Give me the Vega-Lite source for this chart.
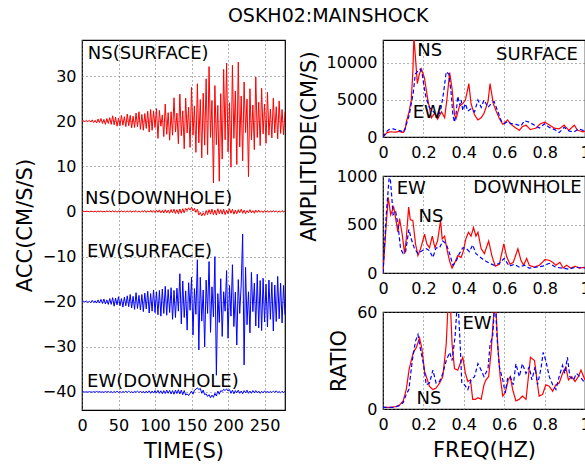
{
"$schema":"https://vega.github.io/schema/vega-lite/v6.json",
"background":"white",
"padding":{"left":13,"top":7,"right":5,"bottom":5},
"title":{"text":"OSKH02:MAINSHOCK","font":"DejaVu Sans","fontSize":19,"fontWeight":"normal","color":"black","anchor":"middle","dx":26,"offset":13},
"config":{
 "font":"DejaVu Sans",
 "view":{"stroke":"black","strokeWidth":1.2},
 "axis":{"labelFont":"DejaVu Sans","labelFontSize":16,"labelColor":"black","titleFont":"DejaVu Sans","titleFontSize":21,"titleFontWeight":"normal","titleColor":"black","ticks":false,"domain":false,"grid":true,"gridColor":"#666","gridDash":[1,3],"gridOpacity":1,"labelPadding":6,"titlePadding":7,"labelFlush":false,"labelOverlap":false},
 "axisX":{"labelPadding":7}
},
"resolve":{"scale":{"color":"independent","strokeDash":"independent"}},
"datasets":{
"ts":[
{"t":0,"a":20,"b":0,"c":-20,"d":-40},
{"t":2,"a":20.1,"b":0.05,"c":-19.9,"d":-39.95},
{"t":4,"a":19.9,"b":-0.05,"c":-20.1,"d":-40.05},
{"t":6,"a":20.2,"b":0.05,"c":-19.8,"d":-39.95},
{"t":8,"a":19.9,"b":0,"c":-20.2,"d":-40.05},
{"t":10,"a":20.2,"b":-0.05,"c":-19.9,"d":-39.95},
{"t":12,"a":19.8,"b":0.05,"c":-20.2,"d":-40},
{"t":14,"a":20.3,"b":0,"c":-19.7,"d":-40.05},
{"t":16,"a":19.7,"b":-0.05,"c":-20.2,"d":-39.95},
{"t":18,"a":20.2,"b":0.05,"c":-19.8,"d":-40.05},
{"t":20,"a":19.6,"b":-0.1,"c":-20.3,"d":-39.9},
{"t":22,"a":20.5,"b":0.1,"c":-19.6,"d":-40.05},
{"t":24,"a":19.7,"b":-0.05,"c":-20.3,"d":-39.9},
{"t":26,"a":20.6,"b":0.1,"c":-19.5,"d":-40.1},
{"t":28,"a":19.5,"b":-0.1,"c":-20.4,"d":-39.95},
{"t":30,"a":20.4,"b":0.05,"c":-19.4,"d":-40.1},
{"t":32,"a":19.3,"b":-0.1,"c":-20.5,"d":-39.9},
{"t":34,"a":20.6,"b":0.1,"c":-19.6,"d":-40.05},
{"t":36,"a":19.5,"b":-0.05,"c":-20.6,"d":-39.9},
{"t":38,"a":20.8,"b":0.1,"c":-19.3,"d":-40.1},
{"t":40,"a":19.3,"b":-0.1,"c":-20.6,"d":-39.9},
{"t":42,"a":21.2,"b":0.15,"c":-19.1,"d":-40.15},
{"t":44,"a":19.2,"b":-0.1,"c":-21.0,"d":-39.9},
{"t":46,"a":20.9,"b":0.1,"c":-19.2,"d":-40.1},
{"t":48,"a":18.9,"b":-0.15,"c":-20.7,"d":-39.85},
{"t":50,"a":20.7,"b":0.1,"c":-18.9,"d":-40.1},
{"t":52,"a":19.0,"b":-0.1,"c":-20.9,"d":-39.9},
{"t":54,"a":21.3,"b":0.15,"c":-19.3,"d":-40.15},
{"t":56,"a":19.1,"b":-0.1,"c":-21.2,"d":-39.9},
{"t":58,"a":21.0,"b":0.1,"c":-19.0,"d":-40.1},
{"t":60,"a":18.8,"b":-0.15,"c":-20.9,"d":-39.85},
{"t":62,"a":21.6,"b":0.1,"c":-18.7,"d":-40.1},
{"t":64,"a":19.0,"b":-0.1,"c":-21.1,"d":-39.8},
{"t":66,"a":21.3,"b":0.15,"c":-18.4,"d":-40.15},
{"t":68,"a":18.5,"b":-0.15,"c":-21.4,"d":-39.9},
{"t":70,"a":21.1,"b":0.1,"c":-18.8,"d":-40.2},
{"t":72,"a":18.6,"b":-0.1,"c":-21.7,"d":-39.85},
{"t":74,"a":21.8,"b":0.2,"c":-18.0,"d":-40.1},
{"t":76,"a":18.8,"b":-0.15,"c":-21.5,"d":-39.8},
{"t":78,"a":22.1,"b":0.1,"c":-18.6,"d":-40.15},
{"t":80,"a":18.2,"b":-0.2,"c":-21.8,"d":-39.8},
{"t":82,"a":21.5,"b":0.15,"c":-18.4,"d":-40.2},
{"t":84,"a":18.0,"b":-0.1,"c":-22.2,"d":-39.85},
{"t":86,"a":21.7,"b":0.2,"c":-18.1,"d":-40.25},
{"t":88,"a":18.4,"b":-0.2,"c":-21.6,"d":-39.8},
{"t":90,"a":22.2,"b":0.15,"c":-17.7,"d":-40.2},
{"t":92,"a":17.6,"b":-0.15,"c":-22.5,"d":-39.75},
{"t":94,"a":22.6,"b":0.25,"c":-18.2,"d":-40.3},
{"t":96,"a":18.0,"b":-0.2,"c":-22.1,"d":-39.8},
{"t":98,"a":22.3,"b":0.2,"c":-17.4,"d":-40.25},
{"t":100,"a":18.6,"b":-0.25,"c":-22.4,"d":-39.7},
{"t":102,"a":22.8,"b":0.3,"c":-17.8,"d":-40.25},
{"t":104,"a":16.2,"b":-0.2,"c":-22.9,"d":-39.65},
{"t":106,"a":22.4,"b":0.35,"c":-17.5,"d":-40.3},
{"t":108,"a":18.9,"b":-0.3,"c":-23.2,"d":-39.75},
{"t":110,"a":21.4,"b":0.25,"c":-17.2,"d":-40.4},
{"t":112,"a":16.6,"b":-0.35,"c":-22.6,"d":-39.7},
{"t":114,"a":23.8,"b":0.4,"c":-16.6,"d":-40.35},
{"t":116,"a":17.1,"b":-0.3,"c":-23.0,"d":-39.6},
{"t":118,"a":21.9,"b":0.3,"c":-17.3,"d":-40.3},
{"t":120,"a":15.8,"b":-0.4,"c":-22.4,"d":-39.65},
{"t":122,"a":22.1,"b":0.45,"c":-16.9,"d":-40.45},
{"t":124,"a":16.9,"b":-0.3,"c":-23.9,"d":-39.7},
{"t":126,"a":25.2,"b":0.5,"c":-17.5,"d":-40.5},
{"t":128,"a":17.6,"b":-0.45,"c":-23.5,"d":-39.6},
{"t":130,"a":21.8,"b":0.4,"c":-17.0,"d":-40.35},
{"t":132,"a":15.0,"b":-0.5,"c":-22.1,"d":-39.5},
{"t":134,"a":26.0,"b":0.55,"c":-13.8,"d":-40.45},
{"t":136,"a":16.8,"b":-0.4,"c":-24.9,"d":-39.6},
{"t":138,"a":22.3,"b":0.6,"c":-15.4,"d":-40.6},
{"t":140,"a":13.9,"b":-0.3,"c":-23.5,"d":-39.7},
{"t":142,"a":25.1,"b":0.7,"c":-17.6,"d":-40.7},
{"t":144,"a":17.4,"b":0.2,"c":-26.3,"d":-40.4},
{"t":146,"a":23.1,"b":0.8,"c":-15.8,"d":-40.8},
{"t":148,"a":14.2,"b":0.3,"c":-21.9,"d":-40.3},
{"t":150,"a":27.5,"b":0.95,"c":-14.6,"d":-39.8},
{"t":152,"a":16.9,"b":0.1,"c":-27.4,"d":-40.5},
{"t":154,"a":23.4,"b":0.7,"c":-17.1,"d":-39.6},
{"t":156,"a":13.1,"b":-0.2,"c":-22.8,"d":-39.4},
{"t":158,"a":28.3,"b":0.5,"c":-10.7,"d":-39.1},
{"t":160,"a":15.2,"b":-0.8,"c":-30.7,"d":-39.5},
{"t":162,"a":24.8,"b":-0.2,"c":-14.6,"d":-39.2},
{"t":164,"a":11.9,"b":-1.0,"c":-24.3,"d":-40.3},
{"t":166,"a":26.2,"b":-0.3,"c":-17.4,"d":-39.6},
{"t":168,"a":14.7,"b":-0.9,"c":-30.0,"d":-40.6},
{"t":170,"a":29.4,"b":0.2,"c":-15.2,"d":-40.4},
{"t":172,"a":12.6,"b":-0.7,"c":-22.6,"d":-41.0},
{"t":174,"a":32.1,"b":0.4,"c":-11.1,"d":-40.6},
{"t":176,"a":16.4,"b":-0.6,"c":-26.8,"d":-41.3},
{"t":178,"a":24.6,"b":0.5,"c":-16.7,"d":-40.7},
{"t":180,"a":6.3,"b":-0.7,"c":-23.4,"d":-41.2},
{"t":182,"a":27.9,"b":0.3,"c":-10.0,"d":-40.3},
{"t":184,"a":14.8,"b":-0.8,"c":-36.3,"d":-40.9},
{"t":186,"a":23.5,"b":0.6,"c":-18.2,"d":-39.8},
{"t":188,"a":6.7,"b":-0.5,"c":-24.6,"d":-40.5},
{"t":190,"a":26.1,"b":0.4,"c":-14.9,"d":-39.7},
{"t":192,"a":11.6,"b":-0.6,"c":-27.7,"d":-39.9},
{"t":194,"a":31.5,"b":0.5,"c":-17.8,"d":-39.4},
{"t":196,"a":15.9,"b":-0.7,"c":-22.1,"d":-39.7},
{"t":198,"a":32.9,"b":0.3,"c":-13.1,"d":-39.3},
{"t":200,"a":13.2,"b":-0.5,"c":-28.1,"d":-39.8},
{"t":202,"a":24.1,"b":0.6,"c":-16.4,"d":-39.5},
{"t":204,"a":9.8,"b":-0.4,"c":-23.2,"d":-40.3},
{"t":206,"a":32.4,"b":0.5,"c":-11.8,"d":-39.6},
{"t":208,"a":16.2,"b":-0.6,"c":-25.5,"d":-40.4},
{"t":210,"a":26.7,"b":0.3,"c":-17.9,"d":-39.7},
{"t":212,"a":10.4,"b":-0.5,"c":-29.6,"d":-40.2},
{"t":214,"a":33.1,"b":0.4,"c":-15.1,"d":-39.6},
{"t":216,"a":14.3,"b":-0.3,"c":-22.6,"d":-40.3},
{"t":218,"a":25.6,"b":0.5,"c":-16.3,"d":-39.8},
{"t":220,"a":11.2,"b":-0.4,"c":-5.0,"d":-40.4},
{"t":222,"a":28.7,"b":0.3,"c":-34.0,"d":-39.7},
{"t":224,"a":17.5,"b":-0.5,"c":-12.4,"d":-40.2},
{"t":226,"a":24.9,"b":0.2,"c":-25.1,"d":-39.6},
{"t":228,"a":7.7,"b":-0.3,"c":-17.8,"d":-40.3},
{"t":230,"a":27.2,"b":0.4,"c":-26.9,"d":-39.8},
{"t":232,"a":15.9,"b":-0.3,"c":-13.5,"d":-40.3},
{"t":234,"a":23.6,"b":0.2,"c":-22.2,"d":-39.7},
{"t":236,"a":13.7,"b":-0.4,"c":-15.9,"d":-40.2},
{"t":238,"a":29.8,"b":0.3,"c":-25.4,"d":-39.7},
{"t":240,"a":16.4,"b":-0.2,"c":-13.9,"d":-40.2},
{"t":242,"a":24.2,"b":0.3,"c":-25.8,"d":-39.8},
{"t":244,"a":14.6,"b":-0.2,"c":-15.3,"d":-40.3},
{"t":246,"a":27.3,"b":0.15,"c":-26.4,"d":-39.85},
{"t":248,"a":17.2,"b":-0.25,"c":-14.8,"d":-40.2},
{"t":250,"a":23.8,"b":0.2,"c":-24.5,"d":-39.75},
{"t":252,"a":15.1,"b":-0.15,"c":-16.1,"d":-40.15},
{"t":254,"a":26.4,"b":0.2,"c":-25.6,"d":-39.8},
{"t":256,"a":16.9,"b":-0.2,"c":-15.2,"d":-40.2},
{"t":258,"a":22.7,"b":0.15,"c":-23.9,"d":-39.85},
{"t":260,"a":16.3,"b":-0.15,"c":-15.7,"d":-40.15},
{"t":262,"a":25.1,"b":0.2,"c":-26.5,"d":-39.8},
{"t":264,"a":17.4,"b":-0.1,"c":-16.3,"d":-40.1},
{"t":266,"a":23.2,"b":0.15,"c":-24.4,"d":-39.75},
{"t":268,"a":16.1,"b":-0.2,"c":-14.4,"d":-40.15},
{"t":270,"a":24.5,"b":0.1,"c":-23.8,"d":-39.9},
{"t":272,"a":17.3,"b":-0.15,"c":-15.9,"d":-40.2},
{"t":274,"a":22.6,"b":0.2,"c":-24.7,"d":-39.85},
{"t":276,"a":17.0,"b":-0.1,"c":-16.4,"d":-40.1},
{"t":278,"a":22.0,"b":0.1,"c":-22.9,"d":-39.9}
],
"surf":[
{"c":"NS","f":0,"v":0},{"c":"NS","f":0.02,"v":600},{"c":"NS","f":0.04,"v":700},{"c":"NS","f":0.06,"v":650},{"c":"NS","f":0.08,"v":750},{"c":"NS","f":0.1,"v":600},{"c":"NS","f":0.11,"v":1000},{"c":"NS","f":0.115,"v":2000},{"c":"NS","f":0.13,"v":3500},{"c":"NS","f":0.14,"v":5000},{"c":"NS","f":0.148,"v":9000},{"c":"NS","f":0.153,"v":13500},{"c":"NS","f":0.16,"v":11000},{"c":"NS","f":0.17,"v":7200},{"c":"NS","f":0.18,"v":8500},{"c":"NS","f":0.19,"v":9200},{"c":"NS","f":0.205,"v":8000},{"c":"NS","f":0.222,"v":5000},{"c":"NS","f":0.24,"v":2600},{"c":"NS","f":0.255,"v":3200},{"c":"NS","f":0.27,"v":2400},{"c":"NS","f":0.29,"v":3400},{"c":"NS","f":0.305,"v":2600},{"c":"NS","f":0.316,"v":5000},{"c":"NS","f":0.33,"v":8700},{"c":"NS","f":0.342,"v":6500},{"c":"NS","f":0.354,"v":3000},{"c":"NS","f":0.362,"v":2500},{"c":"NS","f":0.379,"v":4200},{"c":"NS","f":0.395,"v":4500},{"c":"NS","f":0.408,"v":5000},{"c":"NS","f":0.425,"v":7200},{"c":"NS","f":0.436,"v":4500},{"c":"NS","f":0.453,"v":3000},{"c":"NS","f":0.47,"v":2300},{"c":"NS","f":0.486,"v":2600},{"c":"NS","f":0.5,"v":3200},{"c":"NS","f":0.52,"v":4800},{"c":"NS","f":0.53,"v":7200},{"c":"NS","f":0.546,"v":4500},{"c":"NS","f":0.56,"v":3500},{"c":"NS","f":0.576,"v":2500},{"c":"NS","f":0.593,"v":1700},{"c":"NS","f":0.617,"v":2300},{"c":"NS","f":0.634,"v":1700},{"c":"NS","f":0.658,"v":1200},{"c":"NS","f":0.675,"v":900},{"c":"NS","f":0.69,"v":1400},{"c":"NS","f":0.708,"v":1600},{"c":"NS","f":0.73,"v":1000},{"c":"NS","f":0.757,"v":1200},{"c":"NS","f":0.78,"v":1800},{"c":"NS","f":0.8,"v":2000},{"c":"NS","f":0.82,"v":1700},{"c":"NS","f":0.847,"v":1200},{"c":"NS","f":0.872,"v":1100},{"c":"NS","f":0.897,"v":1600},{"c":"NS","f":0.92,"v":900},{"c":"NS","f":0.947,"v":1600},{"c":"NS","f":0.963,"v":900},{"c":"NS","f":0.99,"v":700},{"c":"NS","f":1.0,"v":800},
{"c":"EW","f":0,"v":0},{"c":"EW","f":0.02,"v":800},{"c":"EW","f":0.03,"v":1000},{"c":"EW","f":0.05,"v":1100},{"c":"EW","f":0.07,"v":950},{"c":"EW","f":0.09,"v":800},{"c":"EW","f":0.1,"v":600},{"c":"EW","f":0.11,"v":1200},{"c":"EW","f":0.13,"v":3000},{"c":"EW","f":0.15,"v":6000},{"c":"EW","f":0.16,"v":8500},{"c":"EW","f":0.175,"v":9000},{"c":"EW","f":0.185,"v":9200},{"c":"EW","f":0.194,"v":8500},{"c":"EW","f":0.205,"v":6500},{"c":"EW","f":0.214,"v":5200},{"c":"EW","f":0.23,"v":4000},{"c":"EW","f":0.247,"v":3500},{"c":"EW","f":0.263,"v":3000},{"c":"EW","f":0.28,"v":3200},{"c":"EW","f":0.288,"v":4000},{"c":"EW","f":0.3,"v":6000},{"c":"EW","f":0.313,"v":8800},{"c":"EW","f":0.326,"v":8500},{"c":"EW","f":0.337,"v":6000},{"c":"EW","f":0.346,"v":3000},{"c":"EW","f":0.354,"v":2000},{"c":"EW","f":0.362,"v":3200},{"c":"EW","f":0.37,"v":5500},{"c":"EW","f":0.38,"v":4300},{"c":"EW","f":0.387,"v":5000},{"c":"EW","f":0.395,"v":3600},{"c":"EW","f":0.408,"v":4500},{"c":"EW","f":0.42,"v":3500},{"c":"EW","f":0.436,"v":3800},{"c":"EW","f":0.453,"v":3400},{"c":"EW","f":0.47,"v":5000},{"c":"EW","f":0.486,"v":4000},{"c":"EW","f":0.5,"v":5000},{"c":"EW","f":0.52,"v":4000},{"c":"EW","f":0.535,"v":4500},{"c":"EW","f":0.55,"v":4800},{"c":"EW","f":0.568,"v":3500},{"c":"EW","f":0.585,"v":2200},{"c":"EW","f":0.6,"v":1800},{"c":"EW","f":0.617,"v":2100},{"c":"EW","f":0.634,"v":1800},{"c":"EW","f":0.658,"v":1700},{"c":"EW","f":0.683,"v":1500},{"c":"EW","f":0.7,"v":2200},{"c":"EW","f":0.724,"v":2000},{"c":"EW","f":0.75,"v":1600},{"c":"EW","f":0.774,"v":1200},{"c":"EW","f":0.8,"v":1800},{"c":"EW","f":0.823,"v":1300},{"c":"EW","f":0.85,"v":1000},{"c":"EW","f":0.872,"v":600},{"c":"EW","f":0.897,"v":1300},{"c":"EW","f":0.922,"v":800},{"c":"EW","f":0.946,"v":700},{"c":"EW","f":0.97,"v":1100},{"c":"EW","f":1.0,"v":800}
],
"down":[
{"c":"NS","f":0,"v":0},{"c":"NS","f":0.016,"v":500},{"c":"NS","f":0.026,"v":780},{"c":"NS","f":0.038,"v":600},{"c":"NS","f":0.053,"v":680},{"c":"NS","f":0.066,"v":520},{"c":"NS","f":0.074,"v":420},{"c":"NS","f":0.082,"v":560},{"c":"NS","f":0.095,"v":400},{"c":"NS","f":0.107,"v":200},{"c":"NS","f":0.115,"v":350},{"c":"NS","f":0.127,"v":680},{"c":"NS","f":0.135,"v":550},{"c":"NS","f":0.148,"v":540},{"c":"NS","f":0.161,"v":300},{"c":"NS","f":0.173,"v":180},{"c":"NS","f":0.186,"v":250},{"c":"NS","f":0.206,"v":400},{"c":"NS","f":0.217,"v":300},{"c":"NS","f":0.23,"v":260},{"c":"NS","f":0.244,"v":380},{"c":"NS","f":0.257,"v":260},{"c":"NS","f":0.27,"v":330},{"c":"NS","f":0.285,"v":540},{"c":"NS","f":0.293,"v":350},{"c":"NS","f":0.305,"v":380},{"c":"NS","f":0.316,"v":250},{"c":"NS","f":0.33,"v":120},{"c":"NS","f":0.342,"v":50},{"c":"NS","f":0.354,"v":100},{"c":"NS","f":0.37,"v":180},{"c":"NS","f":0.387,"v":160},{"c":"NS","f":0.398,"v":230},{"c":"NS","f":0.41,"v":350},{"c":"NS","f":0.423,"v":420},{"c":"NS","f":0.436,"v":380},{"c":"NS","f":0.448,"v":470},{"c":"NS","f":0.46,"v":380},{"c":"NS","f":0.47,"v":420},{"c":"NS","f":0.486,"v":250},{"c":"NS","f":0.502,"v":200},{"c":"NS","f":0.523,"v":330},{"c":"NS","f":0.54,"v":170},{"c":"NS","f":0.556,"v":70},{"c":"NS","f":0.576,"v":90},{"c":"NS","f":0.598,"v":300},{"c":"NS","f":0.612,"v":170},{"c":"NS","f":0.629,"v":90},{"c":"NS","f":0.645,"v":110},{"c":"NS","f":0.668,"v":250},{"c":"NS","f":0.683,"v":130},{"c":"NS","f":0.696,"v":80},{"c":"NS","f":0.711,"v":150},{"c":"NS","f":0.724,"v":80},{"c":"NS","f":0.749,"v":60},{"c":"NS","f":0.774,"v":80},{"c":"NS","f":0.803,"v":140},{"c":"NS","f":0.823,"v":130},{"c":"NS","f":0.84,"v":110},{"c":"NS","f":0.856,"v":80},{"c":"NS","f":0.876,"v":110},{"c":"NS","f":0.892,"v":50},{"c":"NS","f":0.909,"v":80},{"c":"NS","f":0.93,"v":50},{"c":"NS","f":0.951,"v":70},{"c":"NS","f":0.971,"v":50},{"c":"NS","f":1.0,"v":60},
{"c":"EW","f":0,"v":0},{"c":"EW","f":0.016,"v":600},{"c":"EW","f":0.033,"v":1050},{"c":"EW","f":0.041,"v":850},{"c":"EW","f":0.05,"v":600},{"c":"EW","f":0.063,"v":630},{"c":"EW","f":0.074,"v":500},{"c":"EW","f":0.087,"v":250},{"c":"EW","f":0.1,"v":200},{"c":"EW","f":0.112,"v":220},{"c":"EW","f":0.128,"v":450},{"c":"EW","f":0.14,"v":350},{"c":"EW","f":0.156,"v":250},{"c":"EW","f":0.173,"v":200},{"c":"EW","f":0.194,"v":230},{"c":"EW","f":0.214,"v":250},{"c":"EW","f":0.23,"v":230},{"c":"EW","f":0.247,"v":160},{"c":"EW","f":0.263,"v":260},{"c":"EW","f":0.28,"v":260},{"c":"EW","f":0.296,"v":330},{"c":"EW","f":0.313,"v":300},{"c":"EW","f":0.33,"v":200},{"c":"EW","f":0.346,"v":80},{"c":"EW","f":0.362,"v":120},{"c":"EW","f":0.378,"v":200},{"c":"EW","f":0.395,"v":260},{"c":"EW","f":0.41,"v":260},{"c":"EW","f":0.428,"v":220},{"c":"EW","f":0.444,"v":290},{"c":"EW","f":0.46,"v":200},{"c":"EW","f":0.477,"v":170},{"c":"EW","f":0.502,"v":130},{"c":"EW","f":0.527,"v":100},{"c":"EW","f":0.551,"v":80},{"c":"EW","f":0.576,"v":100},{"c":"EW","f":0.6,"v":150},{"c":"EW","f":0.625,"v":70},{"c":"EW","f":0.65,"v":90},{"c":"EW","f":0.675,"v":60},{"c":"EW","f":0.7,"v":80},{"c":"EW","f":0.724,"v":50},{"c":"EW","f":0.757,"v":60},{"c":"EW","f":0.79,"v":70},{"c":"EW","f":0.823,"v":100},{"c":"EW","f":0.856,"v":60},{"c":"EW","f":0.889,"v":50},{"c":"EW","f":0.92,"v":40},{"c":"EW","f":0.955,"v":60},{"c":"EW","f":1.0,"v":50}
],
"ratio":[
{"c":"NS","f":0,"v":1},{"c":"NS","f":0.033,"v":1},{"c":"NS","f":0.066,"v":1.5},{"c":"NS","f":0.082,"v":2.5},{"c":"NS","f":0.1,"v":5},{"c":"NS","f":0.115,"v":12},{"c":"NS","f":0.13,"v":25},{"c":"NS","f":0.15,"v":35},{"c":"NS","f":0.165,"v":38},{"c":"NS","f":0.181,"v":44},{"c":"NS","f":0.193,"v":37},{"c":"NS","f":0.206,"v":23},{"c":"NS","f":0.22,"v":18},{"c":"NS","f":0.23,"v":14},{"c":"NS","f":0.247,"v":12},{"c":"NS","f":0.263,"v":13},{"c":"NS","f":0.28,"v":16},{"c":"NS","f":0.296,"v":20},{"c":"NS","f":0.313,"v":40},{"c":"NS","f":0.324,"v":70},{"c":"NS","f":0.332,"v":70},{"c":"NS","f":0.342,"v":40},{"c":"NS","f":0.354,"v":25},{"c":"NS","f":0.37,"v":24},{"c":"NS","f":0.382,"v":28},{"c":"NS","f":0.395,"v":32},{"c":"NS","f":0.408,"v":22},{"c":"NS","f":0.42,"v":17},{"c":"NS","f":0.433,"v":18},{"c":"NS","f":0.444,"v":6},{"c":"NS","f":0.458,"v":6},{"c":"NS","f":0.47,"v":7},{"c":"NS","f":0.486,"v":6},{"c":"NS","f":0.5,"v":15},{"c":"NS","f":0.51,"v":18},{"c":"NS","f":0.523,"v":20},{"c":"NS","f":0.535,"v":35},{"c":"NS","f":0.546,"v":55},{"c":"NS","f":0.556,"v":70},{"c":"NS","f":0.568,"v":40},{"c":"NS","f":0.58,"v":20},{"c":"NS","f":0.593,"v":8},{"c":"NS","f":0.605,"v":10},{"c":"NS","f":0.62,"v":18},{"c":"NS","f":0.63,"v":20},{"c":"NS","f":0.642,"v":12},{"c":"NS","f":0.658,"v":5},{"c":"NS","f":0.675,"v":6},{"c":"NS","f":0.69,"v":8},{"c":"NS","f":0.708,"v":6},{"c":"NS","f":0.72,"v":20},{"c":"NS","f":0.73,"v":32},{"c":"NS","f":0.75,"v":30},{"c":"NS","f":0.765,"v":15},{"c":"NS","f":0.773,"v":8},{"c":"NS","f":0.79,"v":9},{"c":"NS","f":0.806,"v":15},{"c":"NS","f":0.823,"v":14},{"c":"NS","f":0.84,"v":11},{"c":"NS","f":0.856,"v":15},{"c":"NS","f":0.872,"v":16},{"c":"NS","f":0.889,"v":22},{"c":"NS","f":0.905,"v":26},{"c":"NS","f":0.918,"v":18},{"c":"NS","f":0.934,"v":20},{"c":"NS","f":0.951,"v":17},{"c":"NS","f":0.967,"v":20},{"c":"NS","f":0.98,"v":24},{"c":"NS","f":1.0,"v":18},
{"c":"EW","f":0,"v":1},{"c":"EW","f":0.05,"v":1},{"c":"EW","f":0.08,"v":2},{"c":"EW","f":0.1,"v":4},{"c":"EW","f":0.115,"v":9},{"c":"EW","f":0.128,"v":12},{"c":"EW","f":0.145,"v":30},{"c":"EW","f":0.161,"v":42},{"c":"EW","f":0.173,"v":46},{"c":"EW","f":0.184,"v":38},{"c":"EW","f":0.2,"v":28},{"c":"EW","f":0.214,"v":15},{"c":"EW","f":0.23,"v":16},{"c":"EW","f":0.247,"v":24},{"c":"EW","f":0.263,"v":16},{"c":"EW","f":0.28,"v":17},{"c":"EW","f":0.296,"v":22},{"c":"EW","f":0.313,"v":30},{"c":"EW","f":0.33,"v":35},{"c":"EW","f":0.342,"v":30},{"c":"EW","f":0.357,"v":45},{"c":"EW","f":0.37,"v":70},{"c":"EW","f":0.382,"v":40},{"c":"EW","f":0.39,"v":16},{"c":"EW","f":0.403,"v":15},{"c":"EW","f":0.42,"v":12},{"c":"EW","f":0.436,"v":18},{"c":"EW","f":0.453,"v":20},{"c":"EW","f":0.47,"v":28},{"c":"EW","f":0.486,"v":24},{"c":"EW","f":0.5,"v":20},{"c":"EW","f":0.52,"v":25},{"c":"EW","f":0.53,"v":40},{"c":"EW","f":0.543,"v":45},{"c":"EW","f":0.555,"v":70},{"c":"EW","f":0.564,"v":45},{"c":"EW","f":0.576,"v":26},{"c":"EW","f":0.593,"v":18},{"c":"EW","f":0.605,"v":10},{"c":"EW","f":0.617,"v":19},{"c":"EW","f":0.63,"v":20},{"c":"EW","f":0.645,"v":15},{"c":"EW","f":0.658,"v":28},{"c":"EW","f":0.675,"v":20},{"c":"EW","f":0.69,"v":28},{"c":"EW","f":0.708,"v":22},{"c":"EW","f":0.724,"v":26},{"c":"EW","f":0.737,"v":18},{"c":"EW","f":0.753,"v":26},{"c":"EW","f":0.765,"v":15},{"c":"EW","f":0.782,"v":25},{"c":"EW","f":0.793,"v":35},{"c":"EW","f":0.806,"v":30},{"c":"EW","f":0.823,"v":20},{"c":"EW","f":0.84,"v":15},{"c":"EW","f":0.856,"v":12},{"c":"EW","f":0.872,"v":20},{"c":"EW","f":0.889,"v":27},{"c":"EW","f":0.9,"v":22},{"c":"EW","f":0.913,"v":32},{"c":"EW","f":0.925,"v":20},{"c":"EW","f":0.943,"v":18},{"c":"EW","f":0.958,"v":22},{"c":"EW","f":0.975,"v":20},{"c":"EW","f":1.0,"v":16}
]
},
"hconcat":[
{
 "width":203,"height":370,
 "layer":[
  {"data":{"name":"ts"},
   "transform":[{"fold":["a","b","c","d"],"as":["s","v"]}],
   "mark":{"type":"line","strokeWidth":1,"clip":true},
   "encoding":{
    "x":{"field":"t","type":"quantitative","scale":{"domain":[0,278],"nice":false,"zero":false},"axis":{"values":[0,50,100,150,200,250],"title":"TIME(S)"}},
    "y":{"field":"v","type":"quantitative","scale":{"domain":[-44,38],"nice":false,"zero":false},"axis":{"values":[-40,-30,-20,-10,0,10,20,30],"title":"ACC(CM/S/S)"}},
    "color":{"field":"s","type":"nominal","scale":{"domain":["a","b","c","d"],"range":["#ff0000","#ff0000","#0000ff","#0000ff"]},"legend":null}
   }},
  {"data":{"values":[{"t":8,"v":35,"label":"NS(SURFACE)"},{"t":4,"v":2.7,"label":"NS(DOWNHOLE)"},{"t":7,"v":-8.9,"label":"EW(SURFACE)"},{"t":7,"v":-37.9,"label":"EW(DOWNHOLE)"}]},
   "mark":{"type":"text","align":"left","baseline":"middle","fontSize":18,"font":"DejaVu Sans","color":"black"},
   "encoding":{"x":{"field":"t","type":"quantitative"},"y":{"field":"v","type":"quantitative"},"text":{"field":"label","type":"nominal"}}}
 ]
},
{
 "vconcat":[
  {
   "width":202,"height":97,
   "layer":[
    {"data":{"name":"surf"},
     "mark":{"type":"line","strokeWidth":1.2,"clip":true},
     "encoding":{
      "x":{"field":"f","type":"quantitative","scale":{"domain":[0,1],"nice":false},"axis":{"values":[0,0.2,0.4,0.6,0.8,1],"format":"~g","title":null}},
      "y":{"field":"v","type":"quantitative","scale":{"domain":[0,13100],"nice":false},"axis":{"values":[0,5000,10000],"format":"d","title":"AMPLITUDE(CM/S)","titleY":106}},
      "color":{"field":"c","type":"nominal","scale":{"domain":["NS","EW"],"range":["#ff0000","#0000ff"]},"legend":null},
      "strokeDash":{"field":"c","type":"nominal","scale":{"domain":["NS","EW"],"range":[[1,0],[4,2.5]]},"legend":null}
     }},
    {"data":{"values":[{"f":0.17,"v":11600,"label":"NS"},{"f":0.56,"v":11100,"label":"SURFACE"},{"f":0.147,"v":3250,"label":"EW"}]},
     "mark":{"type":"text","align":"left","baseline":"middle","fontSize":18,"font":"DejaVu Sans","color":"black"},
     "encoding":{"x":{"field":"f","type":"quantitative"},"y":{"field":"v","type":"quantitative"},"text":{"field":"label","type":"nominal"}}}
   ]
  },
  {
   "width":202,"height":97,
   "layer":[
    {"data":{"name":"down"},
     "mark":{"type":"line","strokeWidth":1.2,"clip":true},
     "encoding":{
      "x":{"field":"f","type":"quantitative","scale":{"domain":[0,1],"nice":false},"axis":{"values":[0,0.2,0.4,0.6,0.8,1],"format":"~g","title":null}},
      "y":{"field":"v","type":"quantitative","scale":{"domain":[0,1000],"nice":false},"axis":{"values":[0,500,1000],"format":"d","title":null}},
      "color":{"field":"c","type":"nominal","scale":{"domain":["NS","EW"],"range":["#ff0000","#0000ff"]},"legend":null},
      "strokeDash":{"field":"c","type":"nominal","scale":{"domain":["NS","EW"],"range":[[1,0],[4,2.5]]},"legend":null}
     }},
    {"data":{"values":[{"f":0.068,"v":866,"label":"EW"},{"f":0.447,"v":876,"label":"DOWNHOLE"},{"f":0.176,"v":576,"label":"NS"}]},
     "mark":{"type":"text","align":"left","baseline":"middle","fontSize":18,"font":"DejaVu Sans","color":"black"},
     "encoding":{"x":{"field":"f","type":"quantitative"},"y":{"field":"v","type":"quantitative"},"text":{"field":"label","type":"nominal"}}}
   ]
  },
  {
   "width":202,"height":97,
   "layer":[
    {"data":{"name":"ratio"},
     "mark":{"type":"line","strokeWidth":1.2,"clip":true},
     "encoding":{
      "x":{"field":"f","type":"quantitative","scale":{"domain":[0,1],"nice":false},"axis":{"values":[0,0.2,0.4,0.6,0.8,1],"format":"~g","title":"FREQ(HZ)"}},
      "y":{"field":"v","type":"quantitative","scale":{"domain":[0,60],"nice":false},"axis":{"values":[0,20,40,60],"format":"d","title":"RATIO"}},
      "color":{"field":"c","type":"nominal","scale":{"domain":["NS","EW"],"range":["#ff0000","#0000ff"]},"legend":null},
      "strokeDash":{"field":"c","type":"nominal","scale":{"domain":["NS","EW"],"range":[[1,0],[4,2.5]]},"legend":null}
     }},
    {"data":{"values":[{"f":0.393,"v":52.6,"label":"EW"},{"f":0.166,"v":6.4,"label":"NS"}]},
     "mark":{"type":"text","align":"left","baseline":"middle","fontSize":18,"font":"DejaVu Sans","color":"black"},
     "encoding":{"x":{"field":"f","type":"quantitative"},"y":{"field":"v","type":"quantitative"},"text":{"field":"label","type":"nominal"}}}
   ]
  }
 ],
 "spacing":39,
 "bounds":"flush"
}
],
"spacing":98,
"bounds":"flush"
}
